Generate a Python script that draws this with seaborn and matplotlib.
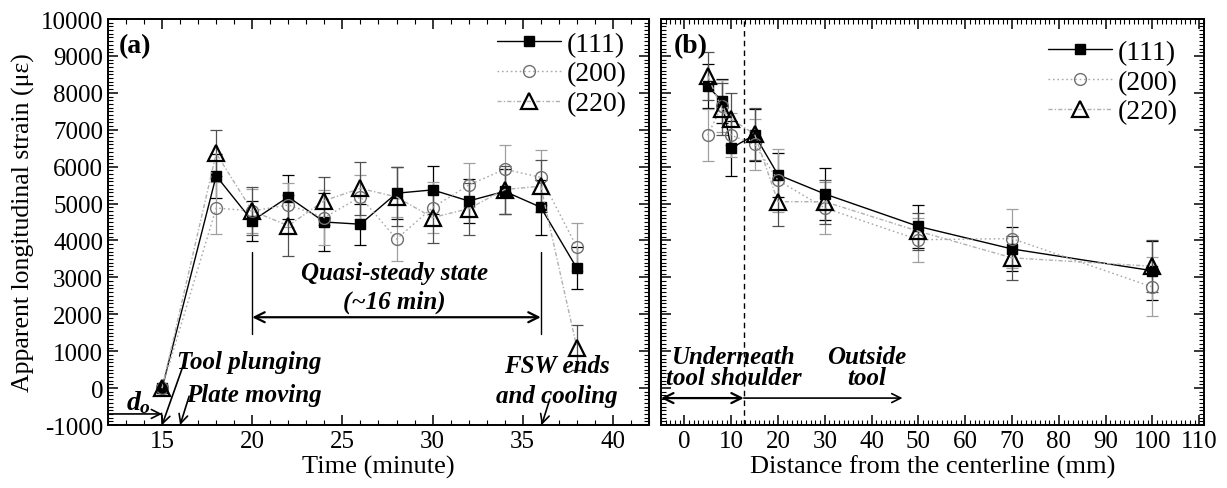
import numpy as np
import pandas as pd
import matplotlib
matplotlib.use("Agg")
import matplotlib.pyplot as plt
from matplotlib.ticker import MultipleLocator
import seaborn as sns

# ---------------- data ----------------
time_min = [15, 18, 20, 22, 24, 26, 28, 30, 32, 34, 36, 38]
a_111 = [0, 5750, 4530, 5180, 4500, 4440, 5280, 5370, 5070, 5330, 4900, 3250]
a_200 = [0, 4880, 4800, 4960, 4620, 5180, 4040, 4890, 5500, 5930, 5710, 3820]
a_220 = [0, 6360, 4800, 4400, 5080, 5410, 5180, 4620, 4860, 5380, 5470, 1100]
a_111_err = [50, 600, 550, 600, 780, 550, 700, 650, 600, 600, 750, 560]
a_200_err = [50, 700, 600, 600, 750, 600, 600, 700, 600, 650, 750, 650]
a_220_err = [50, 620, 650, 830, 650, 720, 800, 700, 700, 650, 700, 600]

dist_mm = [5, 8, 10, 15, 20, 30, 50, 70, 100]
b_111 = [8180, 7780, 6500, 6860, 5780, 5260, 4380, 3770, 3180]
b_200 = [6850, 7650, 6850, 6600, 5630, 4880, 4020, 4050, 2740]
b_220 = [8450, 7570, 7290, 6880, 5050, 5050, 4250, 3530, 3300]
b_111_err = [600, 600, 750, 700, 600, 700, 580, 600, 800]
b_200_err = [700, 700, 600, 700, 850, 700, 600, 800, 800]
b_220_err = [650, 700, 700, 700, 650, 600, 500, 600, 700]

series_names = ["(111)", "(200)", "(220)"]

# ---------------- style ----------------
sns.set_theme(style="ticks")
plt.rcParams["font.family"] = ["Liberation Serif", "DejaVu Serif"]
plt.rcParams["text.color"] = "black"
plt.rcParams["axes.labelcolor"] = "black"
plt.rcParams["axes.unicode_minus"] = False
plt.rcParams["xtick.direction"] = "in"
plt.rcParams["ytick.direction"] = "in"
plt.rcParams["mathtext.fontset"] = "custom"
plt.rcParams["mathtext.it"] = "Liberation Serif:italic:bold"
plt.rcParams["mathtext.rm"] = "Liberation Serif:bold"

styles = {
    "(111)": dict(color="black", ls="-", marker="s", ms=7.5, mfc="black", mec="black", lw=1.0, mew=1.0),
    "(200)": dict(color="#a8a8a8", ls=(0, (1.2, 2)), marker="o", ms=8.5, mfc="none", mec="#707070", lw=1.0, mew=1.0),
    "(220)": dict(color="#b0b0b0", ls=(0, (3, 1.5, 1, 1.5)), marker="^", ms=11, mfc="none", mec="black", lw=1.0, mew=1.6),
}
err_colors = {"(111)": "black", "(200)": "#a0a0a0", "(220)": "#505050"}

fig = plt.figure(figsize=(12.27, 4.89), dpi=100)
axa = fig.add_axes([0.0880, 0.1288, 0.4409, 0.8303])
axb = fig.add_axes([0.5387, 0.1288, 0.4425, 0.8303])


def draw(ax, x, ys, errs):
    for name, y, e in zip(series_names, ys, errs):
        st = styles[name]
        df = pd.DataFrame({"x": x, "y": y})
        ax.errorbar(x, y, yerr=e, fmt="none", ecolor=err_colors[name], elinewidth=0.9,
                    capsize=4, capthick=0.9, zorder=2)
        sns.lineplot(data=df, x="x", y="y", ax=ax, color=st["color"], linestyle=st["ls"],
                     lw=st["lw"], marker=st["marker"], markersize=st["ms"],
                     markerfacecolor=st["mfc"], markeredgecolor=st["mec"],
                     markeredgewidth=st["mew"], label=name, zorder=3,
                     errorbar=None, sort=False)


draw(axa, time_min, [a_111, a_200, a_220], [a_111_err, a_200_err, a_220_err])
draw(axb, dist_mm, [b_111, b_200, b_220], [b_111_err, b_200_err, b_220_err])

for ax, anchor in ((axa, (0.959, 0.97)), (axb, (0.952, 0.95))):
    ax.set_ylim(-1000, 10000)
    ax.yaxis.set_major_locator(MultipleLocator(1000))
    ax.yaxis.set_minor_locator(MultipleLocator(100))
    ax.tick_params(which="both", top=True, right=True, direction="in", colors="black")
    ax.tick_params(which="major", length=7, width=1.1, labelsize=18)
    ax.tick_params(which="minor", length=3.5, width=0.8)
    for sp in ax.spines.values():
        sp.set_linewidth(1.4)
        sp.set_color("black")
    ax.legend(loc="upper right", bbox_to_anchor=anchor, frameon=False, fontsize=20,
              handlelength=2.3, borderaxespad=0, borderpad=0, labelspacing=0.16,
              handletextpad=0.2)

axa.set_xlim(12, 42)
axa.xaxis.set_major_locator(MultipleLocator(5))
axa.xaxis.set_minor_locator(MultipleLocator(1))
axa.set_xticks([15, 20, 25, 30, 35, 40])
axa.set_xlabel("Time (minute)", fontsize=19, labelpad=2)
axa.set_ylabel("Apparent longitudinal strain (με)", fontsize=18.5, labelpad=4)
axa.text(0.02, 0.965, "(a)", transform=axa.transAxes, fontsize=20, fontweight="bold",
         va="top", ha="left")

axb.set_xlim(-5, 111)
axb.xaxis.set_major_locator(MultipleLocator(10))
axb.xaxis.set_minor_locator(MultipleLocator(1))
axb.set_yticklabels([])
axb.set_ylabel("")
axb.set_xlabel("Distance from the centerline (mm)", fontsize=19, labelpad=2)
axb.text(0.024, 0.965, "(b)", transform=axb.transAxes, fontsize=20, fontweight="bold",
         va="top", ha="left")

ann = dict(fontsize=18, fontweight="bold", fontstyle="italic")
arrow = dict(arrowstyle="->", color="black", lw=1.2, mutation_scale=16, shrinkA=0, shrinkB=0)
darrow = dict(arrowstyle="<->", color="black", lw=1.6, mutation_scale=18, shrinkA=0, shrinkB=0)

# panel (a) annotations
axa.plot([20, 20], [1470, 3690], color="black", lw=1.0)
axa.plot([36, 36], [1470, 3690], color="black", lw=1.0)
axa.annotate("", xy=(20, 1920), xytext=(36, 1920), arrowprops=darrow)
axa.text(27.9, 2750, "Quasi-steady state\n(~16 min)", ha="center", va="center",
         linespacing=1.3, **ann)
axa.text(15.85, 730, "Tool plunging", ha="left", va="center", **ann)
axa.text(16.3, -160, "Plate moving", ha="left", va="center", **ann)
axa.text(13.7, -380, r"$d_o$", ha="center", va="center", fontsize=20)
axa.annotate("", xy=(15, -700), xytext=(12, -700), arrowprops=arrow)
axa.annotate("", xy=(15, -1000), xytext=(16.3, 790), arrowprops=arrow)
axa.annotate("", xy=(16.0, -1000), xytext=(16.5, -220), arrowprops=arrow)
axa.text(36.9, 205, "FSW ends\nand cooling", ha="center", va="center",
         linespacing=1.35, **ann)
axa.annotate("", xy=(36.05, -1000), xytext=(36.5, -300), arrowprops=arrow)

# panel (b) annotations
axb.axvline(12.7, color="black", lw=1.0, ls=(0, (4, 3)))
axb.annotate("", xy=(-5, -270), xytext=(12.7, -270), arrowprops=darrow)
axb.annotate("", xy=(46.6, -270), xytext=(12.7, -270), arrowprops=arrow)
axb.text(10.6, 570, "Underneath\ntool shoulder", ha="center", va="center",
         linespacing=0.85, **ann)
axb.text(38.9, 570, "Outside\ntool", ha="center", va="center",
         linespacing=0.85, **ann)

fig.savefig("out.png", dpi=100)
